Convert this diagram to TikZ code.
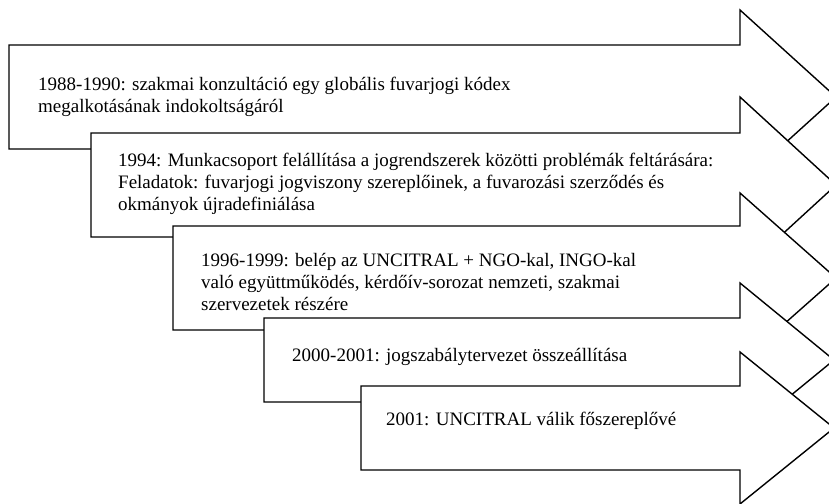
\documentclass[tikz,border=0pt]{standalone}
\usepackage{fontspec}
\setmainfont{Liberation Serif}
\begin{document}
\begin{tikzpicture}[x=1pt,y=-1pt,
  arrowbody/.style={draw=black,fill=white,line width=1.4pt,line join=miter},
  label/.style={anchor=west,align=left,inner sep=0pt,font=\fontsize{19}{22}\selectfont}]
\clip (0,0) rectangle (829,503);
% arrow 1
\draw[arrowbody] (9,45) -- (740,45) -- (740,10) -- (836,97) -- (740,184) -- (740,149) -- (9,149) -- cycle;
\node[label] (t1) at (38,97) {1988-1990: szakmai konzultáció egy globális fuvarjogi kódex\\megalkotásának indokoltságáról};
% arrow 2
\draw[arrowbody] (91,133) -- (740,133) -- (740,97) -- (836,185) -- (740,273) -- (740,237) -- (91,237) -- cycle;
\node[label] (t2) at (118,184) {1994: Munkacsoport felállítása a jogrendszerek közötti problémák feltárására:\\Feladatok: fuvarjogi jogviszony szereplőinek, a fuvarozási szerződés és\\okmányok újradefiniálása};
% arrow 3
\draw[arrowbody] (173,226) -- (740,226) -- (740,193) -- (836,278) -- (740,363) -- (740,330) -- (173,330) -- cycle;
\node[label] (t3) at (201,282) {1996-1999: belép az UNCITRAL + NGO-kal, INGO-kal\\való együttműködés, kérdőív-sorozat nemzeti, szakmai\\szervezetek részére};
% arrow 4
\draw[arrowbody] (264,318) -- (740,318) -- (740,283) -- (834,360) -- (740,437) -- (740,402) -- (264,402) -- cycle;
\node[label] (t4) at (292,357) {2000-2001: jogszabálytervezet összeállítása};
% arrow 5
\draw[arrowbody] (361,386) -- (740,386) -- (740,352) -- (834,428) -- (740,504) -- (740,470) -- (361,470) -- cycle;
\node[label] (t5) at (386,421) {2001: UNCITRAL válik főszereplővé};
\end{tikzpicture}
\end{document}
